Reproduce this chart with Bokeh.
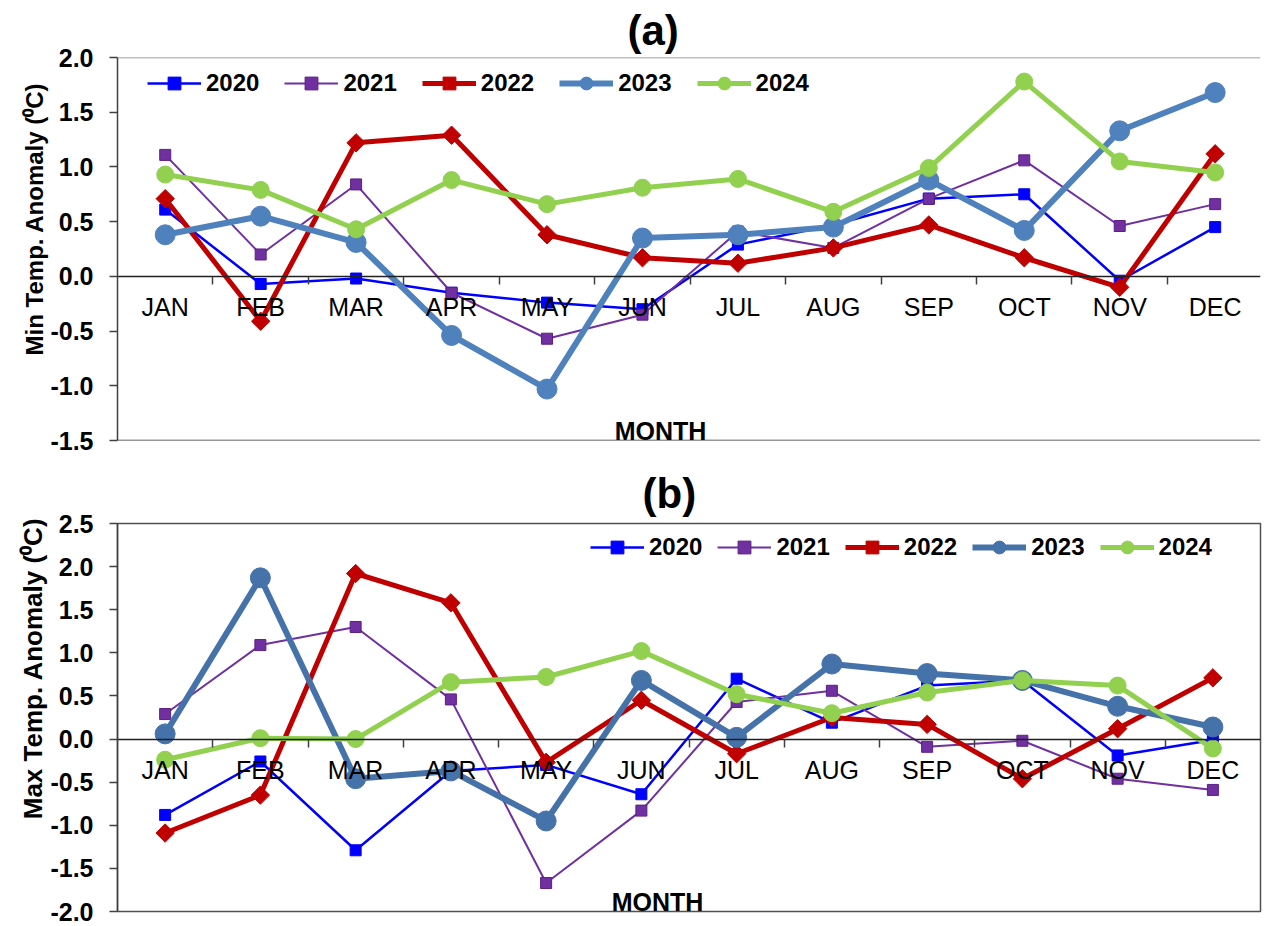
import math
from bokeh.plotting import figure
from bokeh.models import (LinearAxis, FixedTicker, PrintfTickFormatter, Legend, LegendItem,
                          Label, Span, Range1d, Title)
from bokeh.layouts import column
from bokeh.embed import file_html
from bokeh.resources import INLINE

months = ["JAN", "FEB", "MAR", "APR", "MAY", "JUN", "JUL", "AUG", "SEP", "OCT", "NOV", "DEC"]
years = ["2020", "2021", "2022", "2023", "2024"]

# (a) Min temperature anomaly
min_2020 = [0.61, -0.07, -0.02, -0.15, -0.24, -0.30, 0.29, 0.47, 0.71, 0.75, -0.04, 0.45]
min_2021 = [1.11, 0.20, 0.84, -0.15, -0.57, -0.35, 0.41, 0.26, 0.71, 1.06, 0.46, 0.66]
min_2022 = [0.71, -0.41, 1.22, 1.29, 0.38, 0.17, 0.12, 0.26, 0.47, 0.17, -0.10, 1.12]
min_2023 = [0.38, 0.55, 0.31, -0.54, -1.03, 0.35, 0.38, 0.45, 0.88, 0.42, 1.33, 1.68]
min_2024 = [0.93, 0.79, 0.43, 0.88, 0.66, 0.81, 0.89, 0.59, 0.99, 1.78, 1.05, 0.95]

# (b) Max temperature anomaly
max_2020 = [-0.88, -0.26, -1.29, -0.37, -0.30, -0.64, 0.70, 0.19, 0.62, 0.68, -0.19, -0.01]
max_2021 = [0.29, 1.09, 1.30, 0.46, -1.67, -0.83, 0.43, 0.56, -0.09, -0.02, -0.46, -0.59]
max_2022 = [-1.09, -0.65, 1.92, 1.58, -0.27, 0.45, -0.17, 0.25, 0.17, -0.46, 0.12, 0.71]
max_2023 = [0.06, 1.87, -0.46, -0.37, -0.95, 0.68, 0.02, 0.87, 0.76, 0.68, 0.38, 0.14]
max_2024 = [-0.24, 0.01, 0.00, 0.66, 0.72, 1.02, 0.52, 0.30, 0.54, 0.68, 0.62, -0.11]

FONT = "Liberation Sans"
x = list(range(1, len(months) + 1))


def styles(c2023):
    return [
        dict(color="#0000FF", lw=2.5, marker="square", size=11, angle=0.0, lc="#0000FF"),
        dict(color="#7030A0", lw=2.0, marker="square", size=11, angle=0.0, lc="#5B1F86"),
        dict(color="#C00000", lw=5.0, marker="square", size=13, angle=math.pi / 4, lc="#C00000"),
        dict(color=c2023, lw=6.0, marker="circle", size=20, angle=0.0, lc=c2023),
        dict(color="#92D050", lw=5.0, marker="circle", size=17, angle=0.0, lc="#92D050"),
    ]


def make_panel(series, c2023, y0, y1, x_end, width, height, bl, br, bt, bb,
               title, title_offset, title_standoff, ylabel, ylabel_size, ylabel_offset,
               ylabel_gap, month_pos, leg_loc, leg_spacing, outline):
    p = figure(width=width, height=height, x_range=Range1d(0.5, x_end), y_range=Range1d(y0, y1),
               x_axis_location=None, y_axis_location="left", title=None,
               output_backend="svg", toolbar_location=None,
               min_border_left=bl, min_border_right=br, min_border_top=bt, min_border_bottom=bb,
               background_fill_color="white", border_fill_color="white")
    p.grid.visible = False
    if outline:
        p.outline_line_color = "#505050"
        p.outline_line_width = 1.5
    else:
        p.outline_line_color = None
        p.add_layout(Span(location=y1, dimension="width", line_color="#808080", line_width=1.5))
        p.add_layout(Span(location=y0, dimension="width", line_color="#303030", line_width=1.5))

    ya = p.yaxis[0]
    ya.ticker = FixedTicker(ticks=[y0 + 0.5 * k for k in range(int(round((y1 - y0) / 0.5)) + 1)])
    ya.formatter = PrintfTickFormatter(format="%.1f")
    ya.major_tick_out = 8
    ya.major_tick_in = 0
    ya.minor_tick_line_color = None
    ya.axis_line_color = "#404040"
    ya.axis_line_width = 1.5
    ya.major_tick_line_color = "#404040"
    ya.major_tick_line_width = 1.5
    ya.major_label_standoff = 16
    ya.major_label_text_font = FONT
    ya.major_label_text_font_style = "bold"
    ya.major_label_text_font_size = "25px"
    ya.major_label_text_color = "black"

    # invisible spacer between tick labels and the vertical axis title
    spacer = LinearAxis(ticker=FixedTicker(ticks=[]), major_tick_out=ylabel_gap, major_tick_in=0,
                        major_tick_line_color=None, minor_tick_line_color=None,
                        axis_line_color=None, major_label_text_font_size="0px")
    p.add_layout(spacer, "left")

    # category axis on the zero line: labels at months, tick marks between months
    xl = LinearAxis(fixed_location=0,
                    ticker=FixedTicker(ticks=x, minor_ticks=[i + 0.5 for i in x[:-1]]),
                    major_label_overrides={i: m for i, m in zip(x, months)},
                    major_tick_line_color=None, major_tick_out=0, major_tick_in=0,
                    minor_tick_line_color="#404040", minor_tick_line_width=1.5,
                    minor_tick_out=8, minor_tick_in=0,
                    axis_line_color="#202020", axis_line_width=1.5,
                    major_label_standoff=9,
                    major_label_text_font=FONT, major_label_text_font_size="25px",
                    major_label_text_color="black")
    p.add_layout(xl, "below")

    items = []
    for yr, ys, st in zip(years, series, styles(c2023)):
        r1 = p.line(x, ys, line_color=st["color"], line_width=st["lw"], line_join="round")
        r2 = p.scatter(x, ys, marker=st["marker"], size=st["size"], angle=st["angle"],
                       fill_color=st["color"], line_color=st["lc"], line_width=1)
        items.append(LegendItem(label=yr, renderers=[r1, r2]))

    leg = Legend(items=items, orientation="horizontal", location=leg_loc,
                 glyph_width=54, glyph_height=32, label_standoff=5, spacing=leg_spacing,
                 padding=0, margin=0, border_line_color=None, background_fill_alpha=0,
                 label_text_font=FONT, label_text_font_style="bold",
                 label_text_font_size="24px", label_text_color="black")
    p.add_layout(leg, "center")

    p.add_layout(Title(text=title, align="left", offset=title_offset, standoff=title_standoff,
                       text_font=FONT, text_font_style="bold", text_font_size="42px",
                       text_color="black"), "above")
    p.add_layout(Title(text=ylabel, align="right", offset=ylabel_offset, standoff=0,
                       text_font=FONT, text_font_style="bold", text_font_size=ylabel_size,
                       text_color="black"), "left")
    p.add_layout(Label(x=month_pos[0], y=month_pos[1], x_units="screen", y_units="screen",
                       text="MONTH", text_font=FONT, text_font_style="bold", text_font_size="25px",
                       text_color="black", text_align="center", text_baseline="middle"))
    return p


pa = make_panel([min_2020, min_2021, min_2022, min_2023, min_2024], "#4F81BD",
                -1.5, 2.0, 12.475, 1268, 460, 113, 0, 55, 20,
                "(a)", 510, 8, "Min Temp. Anomaly (\u2070C)", "24px", 25, 40,
                (543, 10), (30, 341), 25, outline=False)

pb = make_panel([max_2020, max_2021, max_2022, max_2023, max_2024], "#4672AA",
                -2.0, 2.5, 12.5, 1268, 466, 117, 8, 61, 15,
                "(b)", 525, 14, "Max Temp. Anomaly (\u2070C)", "26px", -6, 2,
                (540, 10), (473, 348), 15, outline=True)

layout = column(pa, pb, spacing=0)
open("out.html", "w").write(file_html(layout, INLINE))
